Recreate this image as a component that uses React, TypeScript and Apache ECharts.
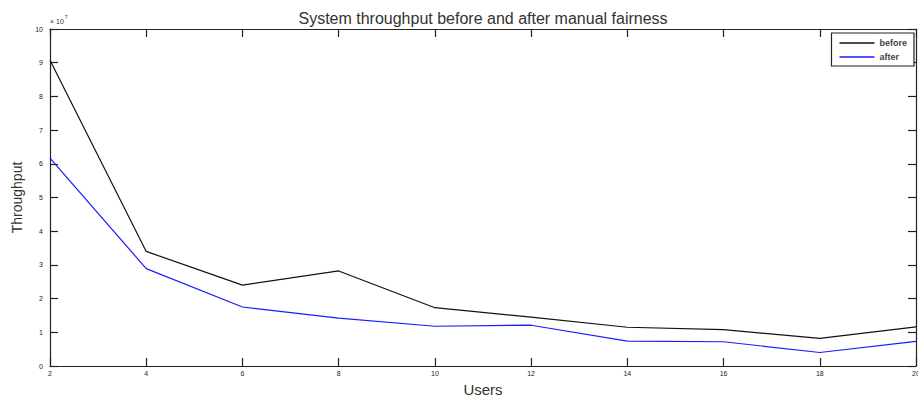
import React, { useEffect, useRef } from "react";
import * as echarts from "echarts";

const users = [2, 4, 6, 8, 10, 12, 14, 16, 18, 20];
const beforeValues = [9.07e7, 3.4e7, 2.4e7, 2.82e7, 1.73e7, 1.45e7, 1.15e7, 1.08e7, 0.82e7, 1.16e7];
const afterValues = [6.17e7, 2.89e7, 1.75e7, 1.42e7, 1.18e7, 1.21e7, 0.74e7, 0.72e7, 0.4e7, 0.73e7];
const yTicks = [0, 1, 2, 3, 4, 5, 6, 7, 8, 9, 10];

const FONT = "'Liberation Sans', Arial, sans-serif";
const AXIS_COLOR = "#222";

export default function App() {
  const ref = useRef<HTMLDivElement>(null);
  useEffect(() => {
    document.body.style.margin = "0";
    if (!ref.current) return;
    const chart = echarts.init(ref.current, undefined, { renderer: "svg" });
    const tickLen = 8;
    const axisCommon = {
      axisLine: { show: true, onZero: false, lineStyle: { color: AXIS_COLOR, width: 1.2 } },
      axisTick: { show: true, inside: true, length: tickLen, lineStyle: { color: AXIS_COLOR, width: 1.2 } },
      splitLine: { show: false },
    };
    chart.setOption({
      animation: false,
      backgroundColor: "#fff",
      textStyle: { fontFamily: FONT },
      title: {
        text: "System throughput before and after manual fairness",
        left: 478,
        top: 5,
        textAlign: "center",
        textStyle: { fontFamily: FONT, fontSize: 16, fontWeight: "normal", color: "#333" },
      },
      legend: {
        orient: "vertical",
        right: 4,
        top: 33,
        backgroundColor: "#fff",
        borderColor: "#222",
        borderWidth: 1.2,
        padding: [5, 7, 4, 8],
        itemGap: 4,
        itemWidth: 35,
        itemHeight: 1.5,
        itemTextGap: 3,
        icon: "rect",
        textStyle: { fontFamily: FONT, fontSize: 9, fontWeight: "bold", color: "#444", lineHeight: 10 },
        data: ["before", "after"],
      },
      grid: { left: 50, right: 2, top: 29, bottom: 33, containLabel: false, outerBoundsMode: "none" },
      xAxis: [
        {
          type: "value",
          min: 2,
          max: 20,
          interval: 2,
          position: "bottom",
          name: "Users",
          nameLocation: "middle",
          nameGap: 15,
          nameTextStyle: { fontFamily: FONT, fontSize: 15, color: "#333" },
          axisLabel: { fontFamily: FONT, fontSize: 7, color: "#222", margin: 4 },
          ...axisCommon,
        },
        {
          type: "value",
          min: 2,
          max: 20,
          interval: 2,
          position: "top",
          axisLabel: { show: false },
          ...axisCommon,
        },
      ],
      yAxis: [
        {
          type: "value",
          min: 0,
          max: 1e8,
          interval: 1e7,
          position: "left",
          name: "Throughput",
          nameLocation: "middle",
          nameGap: 24,
          nameRotate: 90,
          nameTextStyle: { fontFamily: FONT, fontSize: 14, color: "#333" },
          axisLabel: {
            fontFamily: FONT,
            fontSize: 7,
            color: "#222",
            margin: 7,
            formatter: (v: number) => String(yTicks[Math.round(v / 1e7)]),
          },
          ...axisCommon,
        },
        {
          type: "value",
          min: 0,
          max: 1e8,
          interval: 1e7,
          position: "right",
          axisLabel: { show: false },
          ...axisCommon,
        },
      ],
      graphic: [
        {
          type: "text",
          left: 50,
          top: 14,
          style: {
            text: "{a|× 10}{s|7}",
            rich: {
              a: { fontFamily: FONT, fontSize: 7, fill: "#333", verticalAlign: "bottom", padding: [4, 0, 0, 0] },
              s: { fontFamily: FONT, fontSize: 5, fill: "#333", verticalAlign: "top", padding: [0, 0, 6, 1] },
            },
          },
        },
      ],
      series: [
        {
          name: "before",
          type: "line",
          data: users.map((u, i) => [u, beforeValues[i]]),
          showSymbol: false,
          symbol: "none",
          lineStyle: { color: "#111", width: 1.2 },
          itemStyle: { color: "#111" },
          xAxisIndex: 0,
          yAxisIndex: 0,
        },
        {
          name: "after",
          type: "line",
          data: users.map((u, i) => [u, afterValues[i]]),
          showSymbol: false,
          symbol: "none",
          lineStyle: { color: "#1a1aff", width: 1.2 },
          itemStyle: { color: "#1a1aff" },
          xAxisIndex: 0,
          yAxisIndex: 0,
        },
      ],
    });
    return () => chart.dispose();
  }, []);
  return <div ref={ref} style={{ width: 918, height: 399 }} />;
}
